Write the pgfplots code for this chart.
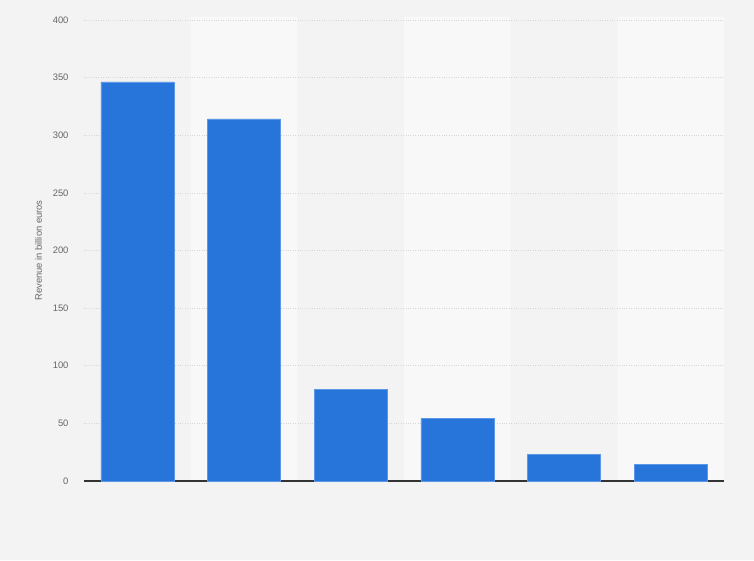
\documentclass[border=0pt]{standalone}
\usepackage{pgfplots}
\pgfplotsset{compat=1.18}
\usepackage{fontspec}
\setmainfont{Liberation Sans}

\definecolor{bgc}{HTML}{F3F3F3}
\definecolor{bandc}{HTML}{F8F8F8}
\definecolor{barc}{HTML}{2775DB}
\definecolor{barline}{HTML}{5C98E8}
\definecolor{gridc}{HTML}{D6D6D6}
\definecolor{tickc}{HTML}{666666}

\begin{document}
\begin{tikzpicture}
\begin{axis}[
    set layers,
    scale only axis,
    width=640pt, height=461pt,
    xmin=-0.5, xmax=5.5,
    ymin=0, ymax=400,
    ytick={0,50,...,400},
    xtick=\empty,
    major tick length=0pt,
    axis x line*=bottom,
    axis y line*=left,
    y axis line style={draw=none},
    x axis line style={draw=black!80, line width=1.2pt},
    ymajorgrids=true,
    grid style={gridc, dotted, line width=0.6pt},
    /pgf/number format/assume math mode=true,
    yticklabel style={font=\fontsize{9.4}{11}\selectfont, text=tickc, xshift=-12pt},
    ylabel={Revenue in billion euros},
    ylabel style={font=\fontsize{9.4}{11}\selectfont, text=tickc, at={(axis description cs:-0.071,0.5)}, anchor=center},
    clip=false,
]
% page background (754 x 560)
\addplot[fill=bgc, draw=none, on layer=axis background] coordinates {(-1.2875,-68.55) (5.78125,-68.55) (5.78125,417.35) (-1.2875,417.35)} \closedcycle;
% alternating column bands
\addplot[fill=bandc, draw=none, on layer=axis background] coordinates {(0.5,0) (1.5,0) (1.5,403) (0.5,403)} \closedcycle;
\addplot[fill=bandc, draw=none, on layer=axis background] coordinates {(2.5,0) (3.5,0) (3.5,403) (2.5,403)} \closedcycle;
\addplot[fill=bandc, draw=none, on layer=axis background] coordinates {(4.5,0) (5.5,0) (5.5,403) (4.5,403)} \closedcycle;
\addplot[ybar, bar width=73pt, fill=barc, draw=barline, line width=0.5pt] coordinates {
  (0,346.2) (1,314.1) (2,79.6) (3,54.4) (4,22.8) (5,14.5)
};
\end{axis}
\end{tikzpicture}
\end{document}
